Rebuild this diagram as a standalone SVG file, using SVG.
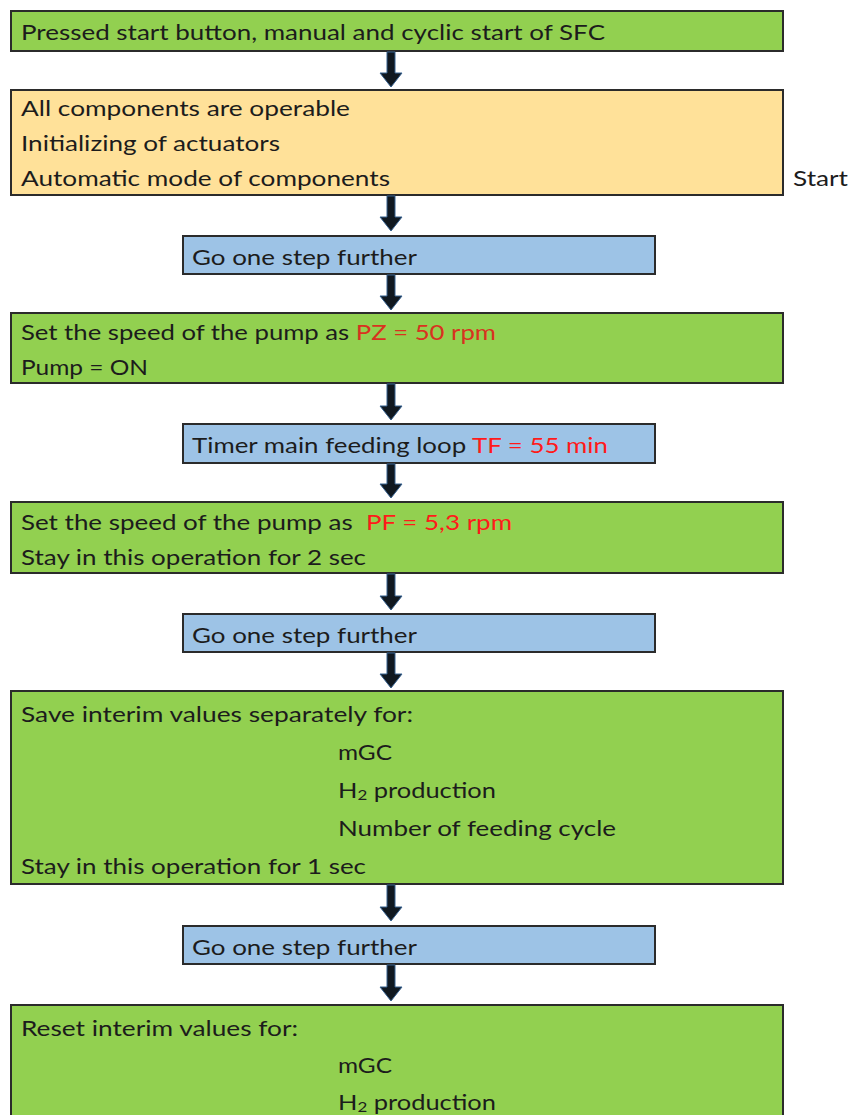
<svg xmlns="http://www.w3.org/2000/svg" width="853" height="1115" viewBox="0 0 853 1115">
  <style>
    .box { stroke: #2b2b2b; stroke-width: 2; }
    .green { fill: #92D050; }
    .yellow { fill: #FFE199; }
    .blue { fill: #9DC3E6; }
    text { font-family: Lato, "Open Sans", "Liberation Sans", sans-serif; font-size: 21px; fill: #1c1c1c; }
    .red { fill: #FF1A1A; }
    .dred { fill: #D9321F; }
    .sub { font-size: 14px; }
    .arrow { fill: #101820; stroke: #35608f; stroke-width: 1; stroke-linejoin: miter; }
  </style>

  <rect width="853" height="1115" fill="#ffffff"/>

  <!-- step boxes -->
  <g id="n1">
    <rect class="box green" x="11" y="11" width="772" height="40"/>
    <text x="21" y="40" textLength="584" lengthAdjust="spacingAndGlyphs">Pressed start button, manual and cyclic start of SFC</text>
  </g>

  <g id="n2">
    <rect class="box yellow" x="11" y="90" width="772" height="105"/>
    <text x="21" y="116" textLength="329" lengthAdjust="spacingAndGlyphs">All components are operable</text>
    <text x="21" y="151" textLength="259" lengthAdjust="spacingAndGlyphs">Initializing of actuators</text>
    <text x="21" y="186" textLength="369" lengthAdjust="spacingAndGlyphs">Automatic mode of components</text>
  </g>

  <g id="start-label">
    <text x="793" y="186" textLength="55" lengthAdjust="spacingAndGlyphs">Start</text>
  </g>

  <g id="n3">
    <rect class="box blue" x="183" y="236" width="472" height="38"/>
    <text x="192" y="265" textLength="225" lengthAdjust="spacingAndGlyphs">Go one step further</text>
  </g>

  <g id="n4">
    <rect class="box green" x="11" y="313" width="772" height="70"/>
    <text x="21" y="340" textLength="475" lengthAdjust="spacingAndGlyphs">Set the speed of the pump as <tspan class="dred">PZ = 50 rpm</tspan></text>
    <text x="21" y="375" textLength="127" lengthAdjust="spacingAndGlyphs">Pump = ON</text>
  </g>

  <g id="n5">
    <rect class="box blue" x="183" y="424" width="472" height="39"/>
    <text x="192" y="453" textLength="416" lengthAdjust="spacingAndGlyphs">Timer main feeding loop <tspan class="red">TF = 55 min</tspan></text>
  </g>

  <g id="n6">
    <rect class="box green" x="11" y="502" width="772" height="71"/>
    <text x="21" y="530" textLength="491" lengthAdjust="spacingAndGlyphs" xml:space="preserve">Set the speed of the pump as  <tspan class="red">PF = 5,3 rpm</tspan></text>
    <text x="21" y="565" textLength="345" lengthAdjust="spacingAndGlyphs">Stay in this operation for 2 sec</text>
  </g>

  <g id="n7">
    <rect class="box blue" x="183" y="614" width="472" height="38"/>
    <text x="192" y="643" textLength="225" lengthAdjust="spacingAndGlyphs">Go one step further</text>
  </g>

  <g id="n8">
    <rect class="box green" x="11" y="691" width="772" height="193"/>
    <text x="21" y="722" textLength="392" lengthAdjust="spacingAndGlyphs">Save interim values separately for:</text>
    <text x="338" y="760" textLength="54" lengthAdjust="spacingAndGlyphs">mGC</text>
    <text x="338" y="798" textLength="158" lengthAdjust="spacingAndGlyphs">H<tspan class="sub" dy="2">2</tspan><tspan dy="-2"> production</tspan></text>
    <text x="338" y="836" textLength="278" lengthAdjust="spacingAndGlyphs">Number of feeding cycle</text>
    <text x="21" y="874" textLength="345" lengthAdjust="spacingAndGlyphs">Stay in this operation for 1 sec</text>
  </g>

  <g id="n9">
    <rect class="box blue" x="183" y="926" width="472" height="38"/>
    <text x="192" y="955" textLength="225" lengthAdjust="spacingAndGlyphs">Go one step further</text>
  </g>

  <g id="n10">
    <rect class="box green" x="11" y="1005" width="772" height="120"/>
    <text x="21" y="1036" textLength="277" lengthAdjust="spacingAndGlyphs">Reset interim values for:</text>
    <text x="338" y="1073" textLength="54" lengthAdjust="spacingAndGlyphs">mGC</text>
    <text x="338" y="1110" textLength="158" lengthAdjust="spacingAndGlyphs">H<tspan class="sub" dy="2">2</tspan><tspan dy="-2"> production</tspan></text>
  </g>

  <!-- block arrows between steps -->
  <g id="connectors">
    <path class="arrow" d="M387,52 H395 V73 H402 L391,87 L380,73 H387 Z"/>
    <path class="arrow" d="M387,196 H395 V217 H402 L391,231 L380,217 H387 Z"/>
    <path class="arrow" d="M387,275 H395 V296 H402 L391,310 L380,296 H387 Z"/>
    <path class="arrow" d="M387,384 H395 V406 H402 L391,420 L380,406 H387 Z"/>
    <path class="arrow" d="M387,464 H395 V484 H402 L391,498 L380,484 H387 Z"/>
    <path class="arrow" d="M387,574 H395 V596 H402 L391,610 L380,596 H387 Z"/>
    <path class="arrow" d="M387,653 H395 V674 H402 L391,688 L380,674 H387 Z"/>
    <path class="arrow" d="M387,885 H395 V907 H402 L391,921 L380,907 H387 Z"/>
    <path class="arrow" d="M387,965 H395 V987 H402 L391,1001 L380,987 H387 Z"/>
  </g>
</svg>
